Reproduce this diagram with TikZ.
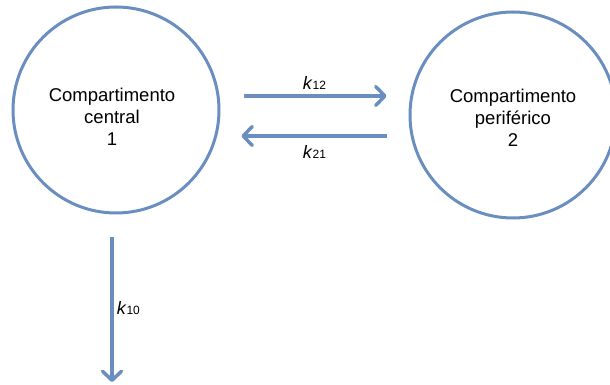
\documentclass[tikz,border=0pt]{standalone}
\usepackage{fontspec}
\setmainfont{Liberation Sans}
\usetikzlibrary{arrows.meta}
\definecolor{linkblue}{RGB}{106,142,191}

\begin{document}
\begin{tikzpicture}[x=1pt,y=1pt,
    comp/.style={circle,draw=linkblue,line width=3pt,minimum size=206pt},
    comptext/.style={align=center,font=\fontsize{18.5}{22}\selectfont},
    flow/.style={draw=linkblue,line width=3.5pt,
      -{Straight Barb[length=9pt,width=19pt,line cap=round,line join=round]}},
    rate/.style={font=\fontsize{18}{20}\selectfont,inner sep=5pt}]
  \useasboundingbox (0,0) rectangle (610,385);
  \node[comp] (c1) at (116,275) {};
  \node[comp] (c2) at (513,270) {};
  \node[comptext] (t1) at ([shift={(-4,-7)}]c1.center) {Compartimento\\central\\1};
  \node[comptext] (t2) at ([yshift=-3]c2.center) {Compartimento\\periférico\\2};
  \coordinate (sink) at (112,3);
  \draw[flow,shorten <=23pt,shorten >=22pt] ([yshift=14pt]c1.east) -- ([yshift=19pt]c2.west)
    node[rate,midway,above] (k12) {\textit{k}{\fontsize{12}{12}\selectfont 12}};
  \draw[flow,shorten <=22pt,shorten >=21pt] ([yshift=-21pt]c2.west) -- ([yshift=-26pt]c1.east)
    node[rate,midway,below,inner sep=8pt] (k21) {\textit{k}{\fontsize{12}{12}\selectfont 21}};
  \draw[flow,shorten <=23pt] ([xshift=-4pt]c1.south) -- (sink)
    node[rate,pos=0.56,right,inner sep=3pt] (k10) {\textit{k}{\fontsize{12}{12}\selectfont 10}};
\end{tikzpicture}
\end{document}
